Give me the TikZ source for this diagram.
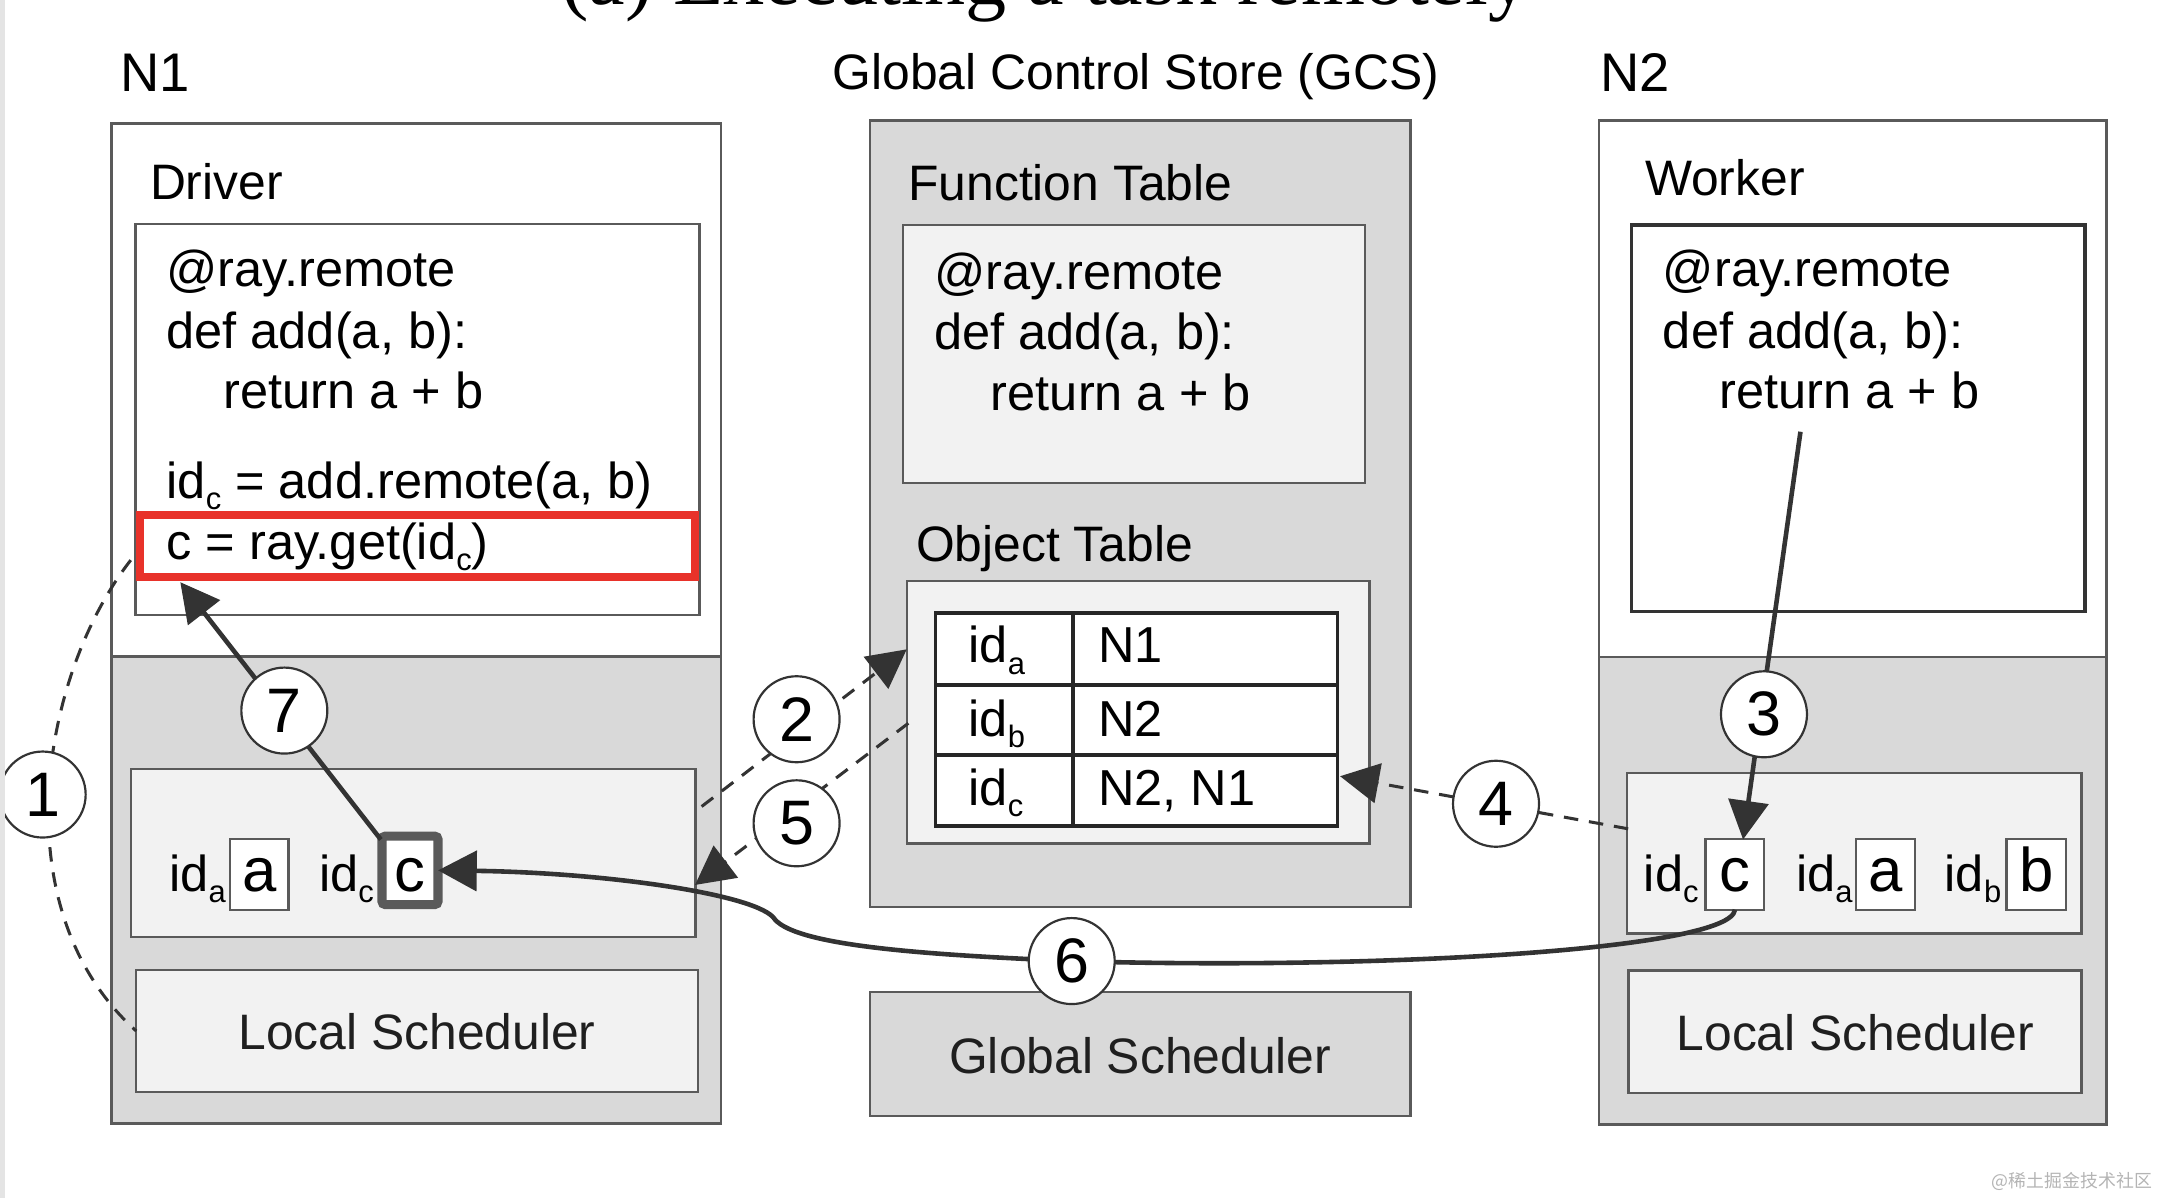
\documentclass[tikz,border=0pt]{standalone}
\usepackage{fontspec}
\setmainfont{Liberation Sans}
\newfontfamily\seriffont{Liberation Serif}
\newfontfamily\cjkfont{Noto Sans CJK SC}
\usetikzlibrary{arrows.meta}
\definecolor{grayfill}{HTML}{D9D9D9}
\definecolor{lightfill}{HTML}{F2F2F2}
\definecolor{bord}{HTML}{5A5A5A}
\definecolor{ink}{HTML}{333333}
\definecolor{redbox}{HTML}{E8322A}
\definecolor{edgestrip}{HTML}{E4E4E4}
\definecolor{wmark}{HTML}{B4B4B4}
\newcommand\sz[1]{\fontsize{#1}{#1}\selectfont}
\newcommand\sbs[1]{\raisebox{-4.6pt}{\fontsize{12.8}{12.8}\selectfont #1}}
\newcommand\rbox[6]{\node[#6, rectangle, anchor=north west, inner sep=0pt, outer sep=0pt,
  minimum width={(#4-#2)*0.02cm}, minimum height={(#5-#3)*0.02cm}] (#1) at (#2,#3) {};}
\tikzset{
  frame/.style={draw=bord, line width=1pt},
  grayframe/.style={frame, fill=grayfill},
  lightframe/.style={frame, fill=lightfill},
  whiteframe/.style={frame, fill=white},
  valbox/.style={draw=bord, line width=1pt, fill=white},
  txt/.style={anchor=base west, inner sep=0pt, outer sep=0pt, font=\sz{20.6}, text=black},
  code/.style={anchor=base west, inner sep=0pt, outer sep=0pt, font=\sz{20.9}, text=black},
  ctxt/.style={anchor=base, inner sep=0pt, outer sep=0pt, font=\sz{20.6}, text=black!88},
  lbl/.style={anchor=base west, inner sep=0pt, outer sep=0pt, font=\sz{22.5}, text=black},
  letter/.style={anchor=base, inner sep=0pt, outer sep=0pt, font=\sz{25.5}, text=black},
  stepcirc/.style={circle, draw=ink, line width=0.9pt, fill=white, minimum size=1.25cm,
    inner sep=0pt, font=\sz{26}, text=black},
  tip/.style={-{Triangle[length=16pt,width=16.5pt]}},
  dashline/.style={draw=ink, line width=1.25pt, dash pattern=on 6pt off 4.5pt},
  solidline/.style={draw=ink, line width=1.9pt},
}
\begin{document}
\begin{tikzpicture}[x=0.02cm, y=-0.02cm]
\useasboundingbox (0,0) rectangle (1568,870.5);
\begin{scope}
\clip (0,0) rectangle (1568,870.5);

% title (cut off at the top, as in the reference)
\node[anchor=base, inner sep=0pt, font=\seriffont\sz{34}] (title) at (759.5,3) {(a) Executing a task remotely};

% headings
\node[lbl] (n1lbl) at (87.6,66.7) {N1};
\node[txt] (gcslbl) at (605,65.3) {Global Control Store (GCS)};
\node[lbl] (n2lbl) at (1162.8,66.7) {N2};

% ---------- N1 ----------
\rbox{n1}{81}{89.8}{524}{816.4}{whiteframe}
\rbox{n1low}{81}{477}{524}{816.4}{grayframe}
\node[txt] (driver) at (109,145) {Driver};
\rbox{drvcode}{98.6}{162.9}{508.4}{447}{whiteframe}
\node[code] (d1) at (121,208.5) {@ray.remote};
\node[code] (d2) at (121,253) {def add(a, b):};
\node[code] (d3) at (162.6,297) {return a + b};
\node[code] (d4) at (121,362.3) {id\sbs{c} = add.remote(a, b)};
\node[code] (d5) at (121,406.5) {c = ray.get(id\sbs{c})};
\rbox{redsel}{101.5}{374}{505}{419.5}{draw=redbox, line width=3.4pt}
\rbox{n1store}{95}{558.8}{505.4}{680.7}{lightframe}
\node[code] (n1ida) at (123,648) {id\sbs{a}};
\rbox{n1a}{167.3}{609.8}{209.5}{661}{valbox}
\node[letter] at (188.4,648) {a};
\node[code] (n1idc) at (231.8,648) {id\sbs{c}};
\rbox{n1c}{277.5}{607.5}{318.3}{657.3}{draw=bord, line width=3.8pt, fill=white, rounded corners=1.5pt}
\node[letter] at (297.9,648) {c};
\rbox{n1sched}{99}{704.8}{507}{793.5}{lightframe}
\node[ctxt] at (303,762.4) {Local Scheduler};

% ---------- GCS ----------
\rbox{gcs}{632}{87.7}{1025}{659}{grayframe}
\node[txt] (ftlbl) at (660,146) {Function Table};
\rbox{ftab}{656}{163.6}{992}{351}{lightframe}
\node[code] (f1) at (679,210) {@ray.remote};
\node[code] (f2) at (679,254) {def add(a, b):};
\node[code] (f3) at (720,298) {return a + b};
\node[txt] (otlbl) at (665.6,407.8) {Object Table};
\rbox{otab}{659}{422}{995}{613}{lightframe}
\rbox{otable}{679.6}{445.6}{971.9}{600}{draw=black!85, line width=1.5pt, fill=white}
\draw[draw=black!85, line width=1.5pt] (779.7,445.6) -- (779.7,600)
  (679.6,497.5) -- (971.9,497.5) (679.6,548.4) -- (971.9,548.4);
\node[code] at (703.8,481.7) {id\sbs{a}};
\node[code] at (798,481.7) {N1};
\node[code] at (703.8,535.2) {id\sbs{b}};
\node[code] at (798,535.2) {N2};
\node[code] at (703.8,585) {id\sbs{c}};
\node[code] at (798,585) {N2, N1};
\rbox{gsched}{632}{720.8}{1025}{811}{grayframe}
\node[ctxt] at (828.5,780) {Global Scheduler};

% ---------- N2 ----------
\rbox{n2}{1161.8}{87.6}{1530.6}{817}{whiteframe}
\rbox{n2low}{1161.8}{477.5}{1530.6}{817}{grayframe}
\node[txt] (worker) at (1195.3,142.3) {Worker};
\rbox{wcode}{1185.4}{163.5}{1515}{444.3}{draw=ink, line width=1.4pt, fill=white}
\node[code] (w1) at (1208.3,208.5) {@ray.remote};
\node[code] (w2) at (1208.3,253) {def add(a, b):};
\node[code] (w3) at (1249.3,297) {return a + b};
\rbox{n2store}{1182}{561.5}{1512.5}{678.4}{lightframe}
\node[code] at (1194.4,648) {id\sbs{c}};
\rbox{n2c}{1239.3}{609.6}{1281.7}{661.2}{valbox}
\node[letter] at (1260.5,648) {c};
\node[code] at (1305,648) {id\sbs{a}};
\rbox{n2a}{1348.6}{609.6}{1391.4}{661.2}{valbox}
\node[letter] at (1370,648) {a};
\node[code] at (1413,648) {id\sbs{b}};
\rbox{n2b}{1458}{609.6}{1501}{661.2}{valbox}
\node[letter] at (1479.5,648) {b};
\rbox{n2sched}{1183.3}{705.3}{1512.5}{794}{lightframe}
\node[ctxt] at (1348,763) {Local Scheduler};

% ---------- connector end points ----------
\coordinate (p1a) at (95,407);
\coordinate (p2a) at (509.8,586);
\coordinate (p2b) at (658.8,471.8);
\coordinate (p5a) at (660,525.5);
\coordinate (p5b) at (505,643);
\coordinate (p3a) at (1308.2,313.7);
\coordinate (p3b) at (1266.5,610);
\coordinate (p4a) at (1183,602.2);
\coordinate (p4b) at (973.7,564);
\coordinate (p6a) at (1260.6,661);
\coordinate (p6k) at (563,668);
\coordinate (p7a) at (276.7,610);
\coordinate (p7b) at (131,423);
\coordinate (c6pos) at (778.7,698.3);

% ---------- connectors ----------
\draw[dashline] (p1a) .. controls (30,490) and (0,660) .. (n1sched.west);
\draw[dashline, tip] (p2a) -- (p2b);
\draw[dashline, tip] (p5a) -- (p5b);
\draw[solidline, tip] (p3a) -- (p3b);
\draw[dashline, tip] (p4a) -- (p4b);
\draw[solidline, tip] (p6a) .. controls (1258,690) and (1000,705) .. (c6pos)
  .. controls (680,694) and (580,688) .. (p6k)
  .. controls (552,650) and (440,634) .. (n1c.east);
\draw[solidline, tip] (p7a) -- (p7b);

% ---------- step circles ----------
\node[stepcirc] (c1) at (31,577.3) {1};
\node[stepcirc] (c2) at (578.8,522.6) {2};
\node[stepcirc] (c3) at (1281.7,519) {3};
\node[stepcirc] (c4) at (1087,584) {4};
\node[stepcirc] (c5) at (578.8,598.2) {5};
\node[stepcirc] (c6) at (c6pos) {6};
\node[stepcirc] (c7) at (206.6,516.3) {7};

% page edge strip and watermark
\fill[edgestrip] (0,0) rectangle (3.6,870.5);
\node[anchor=base west, inner sep=0pt, font=\cjkfont\sz{7.4}, text=wmark] (wm) at (1447,863) {@稀土掘金技术社区};
\end{scope}
\end{tikzpicture}
\end{document}
